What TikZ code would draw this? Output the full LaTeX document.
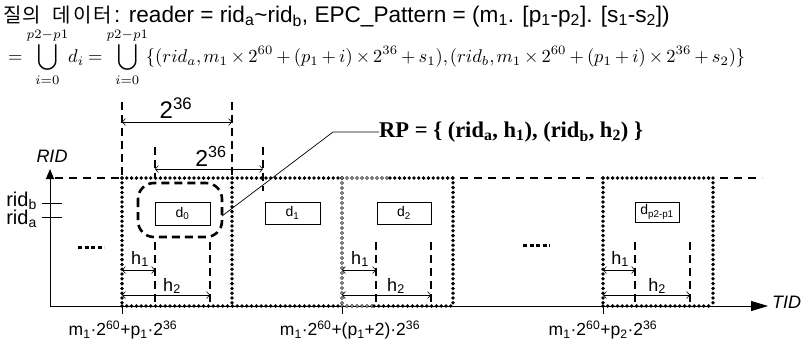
\documentclass[tikz,border=0pt]{standalone}
\usepackage{fontspec}
\setmainfont{Liberation Serif}
\setsansfont{Liberation Sans}
\newfontfamily\krfont{Noto Sans CJK KR}
\usetikzlibrary{arrows.meta}
\newcommand\myfs[1]{\fontsize{#1}{#1}\selectfont}
\newcommand\kch[2]{\makebox[#1pt][l]{#2}}
\begin{document}
\begin{tikzpicture}[x=1pt,y=-1pt,font=\sffamily,
  dotln/.style={line width=3.8pt, line cap=round, dash pattern=on 0pt off 4.8pt},
  ringln/.style={line width=3.9pt, line cap=round, dash pattern=on 0pt off 5pt,
     postaction={draw=white, line width=1.6pt, line cap=round, dash pattern=on 0pt off 5pt}},
  dashln/.style={line width=2.6pt, dash pattern=on 8pt off 5pt},
  topdash/.style={line width=2.2pt, dash pattern=on 8pt off 6pt},
  meas/.style={line width=0.6pt, {Straight Barb[length=3pt,width=7pt]}-{Straight Barb[length=3pt,width=7pt]}},
  dbox/.style={draw, line width=0.8pt, inner sep=0pt, font=\sffamily\myfs{14}},
  axis/.style={line width=0.9pt},
  hlab/.style={font=\sffamily\myfs{18}, inner sep=0pt},
  tlab/.style={font=\sffamily\myfs{17.5}, inner sep=0pt},
  ell/.style={line width=3pt, dash pattern=on 4pt off 2.5pt}]
\useasboundingbox (0,0) rectangle (805,341);

% ---------- text header ----------
\node[anchor=base west, inner sep=0pt, font=\sffamily\myfs{22.6}] (q1) at (3,22)
 {{\krfont\myfs{20}\kch{19}{질}\kch{19}{의}\hspace{11pt}\kch{21}{데}\kch{20}{이}\kch{21}{터}}: reader = rid\textsubscript{a}\textasciitilde rid\textsubscript{b}, EPC\_Pattern = (m\textsubscript{1}. [p\textsubscript{1}-p\textsubscript{2}]. [s\textsubscript{1}-s\textsubscript{2}])};
\node[anchor=west, inner sep=0pt] (q2) at (8,57)
 {\resizebox{737pt}{!}{\thinmuskip=2mu\medmuskip=3mu\thickmuskip=4mu$\displaystyle = \bigcup_{i=0}^{p2-p1}\! d_i = \bigcup_{i=0}^{p2-p1}\! \{(rid_a, m_1\times 2^{60} + (p_1+i)\times 2^{36} + s_1), (rid_b, m_1 \times 2^{60} + (p_1+i)\times 2^{36}+s_2)\}$}};

% ---------- coordinates ----------
\coordinate (o) at (50,306);
\coordinate (ytop) at (50,169);
\coordinate (xend) at (768,306);

% ---------- axes ----------
\draw[axis,-{Triangle[length=10pt,width=8pt]}] (o) -- (ytop);
\draw[axis,-{Triangle[length=17pt,width=10pt]}] (o) -- (xend);
\node[font=\sffamily\itshape\myfs{18}, inner sep=0pt] (rid) at (52,156) {RID};
\node[font=\sffamily\itshape\myfs{18}, inner sep=0pt, anchor=west] (tid) at (772,302) {TID};

% rid ticks
\coordinate (tb1) at (42,203); \coordinate (tb2) at (62,203);
\coordinate (ta1) at (42,217); \coordinate (ta2) at (62,217);
\draw[line width=0.8pt] (tb1) -- (tb2);
\draw[line width=0.8pt] (ta1) -- (ta2);
\node[anchor=east, inner sep=0pt, font=\sffamily\myfs{20}] (ridb) at (37,201) {rid\textsubscript{b}};
\node[anchor=east, inner sep=0pt, font=\sffamily\myfs{20}] (rida) at (37,219) {rid\textsubscript{a}};

% ---------- top line ----------
\draw[topdash] (55,178) -- (122,178);
\draw[dotln] (122,178) -- (342,178);
\draw[ringln] (342,178) -- (388,178);
\draw[dotln] (390,178) -- (453,178);
\draw[topdash] (460,178) -- (600,178);
\draw[dotln] (603,178) -- (713,178);
\draw[topdash] (720,178) -- (762,178);

% ---------- windows ----------
\draw[dotln] (122,178) -- (122,306);
\draw[dotln] (232,178) -- (232,306);
\draw[ringln] (342,178) -- (342,306);
\draw[dotln] (453,178) -- (453,306);
\draw[dotln] (603,178) -- (603,306);
\draw[dotln] (713,178) -- (713,306);
\draw[dotln] (122,306) -- (342,306);
\draw[ringln] (342,306) -- (372,306);
\draw[dotln] (374,306) -- (453,306);
\draw[dotln] (603,306) -- (713,306);

% ticks below axis
\draw[line width=0.6pt] (122,306) -- (122,314);
\draw[line width=0.6pt] (342,306) -- (342,314);
\draw[line width=0.6pt] (603,306) -- (603,314);

% ---------- 2^36 measures ----------
\draw[dashln] (122,102) -- (122,178);
\draw[dashln] (232,102) -- (232,178);
\draw[dashln] (155,147) -- (155,178);
\draw[dashln] (263,147) -- (263,191);
\coordinate (m1a) at (122,122); \coordinate (m1b) at (232,122);
\coordinate (m2a) at (155,169); \coordinate (m2b) at (263,169);
\draw[meas] (m1a) -- (m1b);
\draw[meas] (m2a) -- (m2b);
\node[font=\sffamily\myfs{24}, inner sep=0pt] (l1) at (176,108) {2\textsuperscript{36}};
\node[font=\sffamily\myfs{23}, inner sep=0pt] (l2) at (211,156) {2\textsuperscript{36}};

% ---------- rounded selection ----------
\draw[dashln, rounded corners=16pt] (138,183) rectangle (222,237);
\coordinate (sel) at (222,216);

% ---------- d boxes ----------
\node[dbox, minimum width=55pt, minimum height=23pt] (d0) at (182.5,213.5) {d\textsubscript{0}};
\node[dbox, minimum width=55pt, minimum height=22pt] (d1) at (292.5,213) {d\textsubscript{1}};
\node[dbox, minimum width=54pt, minimum height=22pt] (d2) at (404,213) {d\textsubscript{2}};
\node[dbox, minimum width=44pt, minimum height=20pt] (dp) at (657,212) {d\textsubscript{p2-p1}};

% ---------- h markers ----------
\foreach \a/\b/\c/\n in {122/155/210/A, 342/376/431/B, 603/635/690/C}{
  \draw[dashln] (\b,242) -- (\b,306);
  \draw[dashln] (\c,242) -- (\c,306);
  \coordinate (h1s\n) at (\a,270); \coordinate (h1e\n) at (\b,270);
  \coordinate (h2s\n) at (\a,295); \coordinate (h2e\n) at (\c,295);
  \draw[meas] (h1s\n) -- (h1e\n);
  \draw[meas] (h2s\n) -- (h2e\n);
}
\node[hlab] (h1A) at (140,259) {h\textsubscript{1}};
\node[hlab] (h2A) at (172,286) {h\textsubscript{2}};
\node[hlab] (h1B) at (360,259) {h\textsubscript{1}};
\node[hlab] (h2B) at (396,286) {h\textsubscript{2}};
\node[hlab] (h1C) at (620,259) {h\textsubscript{1}};
\node[hlab] (h2C) at (657,286) {h\textsubscript{2}};

% ellipses
\draw[ell] (78,247) -- (104,247);
\draw[ell] (523,245) -- (550,245);

% ---------- RP label ----------
\node[anchor=west, inner sep=0pt, font=\rmfamily\bfseries\myfs{22.5}] (rp) at (379,132)
  {RP = \{ (rid\textsubscript{a}, h\textsubscript{1}), (rid\textsubscript{b}, h\textsubscript{2}) \}};
\coordinate (rpk) at (333,132);
\draw[line width=0.7pt] (rp.west) -- (rpk) -- (sel);

% ---------- bottom labels ----------
\node[tlab] (b1) at (123,330) {m\textsubscript{1}·2\textsuperscript{60}+p\textsubscript{1}·2\textsuperscript{36}};
\node[tlab] (b2) at (350,330) {m\textsubscript{1}·2\textsuperscript{60}+(p\textsubscript{1}+2)·2\textsuperscript{36}};
\node[tlab] (b3) at (603,330) {m\textsubscript{1}·2\textsuperscript{60}+p\textsubscript{2}·2\textsuperscript{36}};
\end{tikzpicture}
\end{document}
